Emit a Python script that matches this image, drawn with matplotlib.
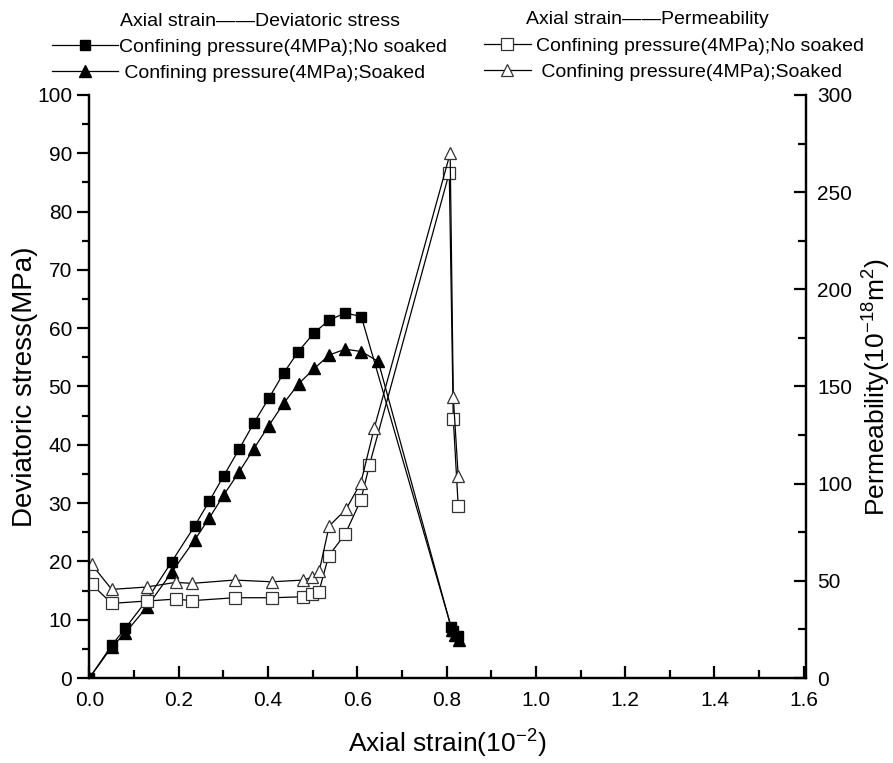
import matplotlib
matplotlib.use("Agg")
import matplotlib.pyplot as plt
from matplotlib.ticker import MultipleLocator

plt.rcParams['font.family'] = ['Liberation Sans', 'DejaVu Sans']
plt.rcParams['mathtext.fontset'] = 'custom'
plt.rcParams['mathtext.rm'] = 'Liberation Sans'

# deviatoric stress (MPa) vs axial strain (10^-2)
strain_dry = [0.0, 0.05, 0.08, 0.128, 0.184, 0.236, 0.269, 0.301, 0.335, 0.368, 0.402,
              0.435, 0.468, 0.502, 0.537, 0.573, 0.609, 0.81, 0.815, 0.826]
stress_dry = [0.0, 5.6, 8.5, 13.3, 19.9, 26.1, 30.4, 34.7, 39.2, 43.7, 48.0,
              52.3, 56.0, 59.1, 61.4, 62.6, 62.0, 8.8, 8.0, 7.2]

strain_wet = [0.0, 0.05, 0.08, 0.128, 0.184, 0.236, 0.269, 0.301, 0.335, 0.368, 0.402,
              0.435, 0.469, 0.504, 0.537, 0.573, 0.609, 0.647, 0.812, 0.818, 0.828]
stress_wet = [0.0, 5.3, 7.7, 12.1, 18.1, 23.7, 27.5, 31.4, 35.3, 39.3, 43.3,
              47.1, 50.5, 53.1, 55.4, 56.4, 56.0, 54.3, 8.2, 7.4, 6.6]

# permeability (10^-18 m^2) vs axial strain
perm_strain_dry = [0.005, 0.05, 0.128, 0.193, 0.23, 0.325, 0.409, 0.479, 0.498, 0.514,
                   0.536, 0.573, 0.608, 0.627, 0.806, 0.815, 0.826]
perm_dry = [48.2, 38.4, 39.6, 40.6, 39.8, 41.3, 41.3, 41.8, 43.4, 44.4,
            62.9, 74.1, 91.6, 109.4, 260.0, 133.4, 88.5]

perm_strain_wet = [0.005, 0.05, 0.128, 0.193, 0.23, 0.325, 0.409, 0.479, 0.498, 0.515,
                   0.537, 0.575, 0.608, 0.638, 0.808, 0.815, 0.826]
perm_wet = [58.5, 45.6, 46.8, 49.2, 48.7, 50.4, 49.5, 50.4, 51.8, 55.2,
            78.2, 86.9, 100.5, 128.6, 270.0, 144.7, 104.0]

label_dry = "Confining pressure(4MPa);No soaked"
label_wet = " Confining pressure(4MPa);Soaked"

fig = plt.figure(figsize=(8.93, 7.63), dpi=100)
ax = fig.add_axes([0.1001, 0.1114, 0.8025, 0.7641])
ax2 = ax.twinx()

lw = 0.9
l1, = ax.plot(strain_dry, stress_dry, color='black', lw=lw, marker='s', ms=7,
              mfc='black', mec='black')
l2, = ax.plot(strain_wet, stress_wet, color='black', lw=lw, marker='^', ms=8,
              mfc='black', mec='black')
l3, = ax2.plot(perm_strain_dry, perm_dry, color='black', lw=lw, marker='s', ms=8,
               mfc='white', mec='#333333', mew=0.9)
l4, = ax2.plot(perm_strain_wet, perm_wet, color='black', lw=lw, marker='^', ms=9,
               mfc='white', mec='#333333', mew=0.9)

ax.set_xlim(0, 1.605)
ax.set_ylim(0, 100)
ax2.set_ylim(0, 300)

ax.xaxis.set_major_locator(MultipleLocator(0.2))
ax.xaxis.set_minor_locator(MultipleLocator(0.1))
ax.yaxis.set_major_locator(MultipleLocator(10))
ax.yaxis.set_minor_locator(MultipleLocator(5))
ax2.yaxis.set_major_locator(MultipleLocator(50))
ax2.yaxis.set_minor_locator(MultipleLocator(25))

for a in (ax, ax2):
    a.spines['top'].set_visible(False)
    for s in a.spines.values():
        s.set_linewidth(1.6)

ax.tick_params(axis='x', which='both', direction='in', width=1.6, labelsize=15, pad=9)
ax.tick_params(axis='x', which='major', length=9)
ax.tick_params(axis='x', which='minor', length=6)
ax.tick_params(axis='y', which='both', direction='out', width=1.6, labelsize=15)
ax.tick_params(axis='y', which='major', length=9)
ax.tick_params(axis='y', which='minor', length=5)
ax2.tick_params(axis='y', which='both', direction='in', width=1.6, labelsize=15, pad=8)
ax2.tick_params(axis='y', which='major', length=9)
ax2.tick_params(axis='y', which='minor', length=6)

ax.set_xticklabels([f"{v:.1f}" for v in ax.get_xticks()])

ax.set_xlabel(r"Axial strain(10$^{-2}$)", fontsize=19, labelpad=12)
ax.set_ylabel("Deviatoric stress(MPa)", fontsize=20, labelpad=-1)
ax2.set_ylabel(r"Permeability(10$^{-18}$m$^{2}$)", fontsize=19, labelpad=5)

fig.text(260 / 893, 1 - 22 / 763, "Axial strain\u2014\u2014Deviatoric stress",
         ha='center', va='center', fontsize=14)
fig.text(647 / 893, 1 - 20 / 763, "Axial strain\u2014\u2014Permeability",
         ha='center', va='center', fontsize=14)

leg1 = fig.legend([l1, l2], [label_dry, label_wet],
                  loc='upper left', bbox_to_anchor=(52 / 893, 1 - 38 / 763), frameon=False,
                  fontsize=14, handlelength=3.4, handletextpad=0.05,
                  labelspacing=0.45, borderpad=0.0, borderaxespad=0.0)
leg2 = fig.legend([l3, l4], [label_dry, label_wet],
                  loc='upper left', bbox_to_anchor=(484 / 893, 1 - 37 / 763), frameon=False,
                  fontsize=14, handlelength=2.4, handletextpad=0.3,
                  labelspacing=0.45, borderpad=0.0, borderaxespad=0.0)

fig.savefig("out.png", dpi=100)
